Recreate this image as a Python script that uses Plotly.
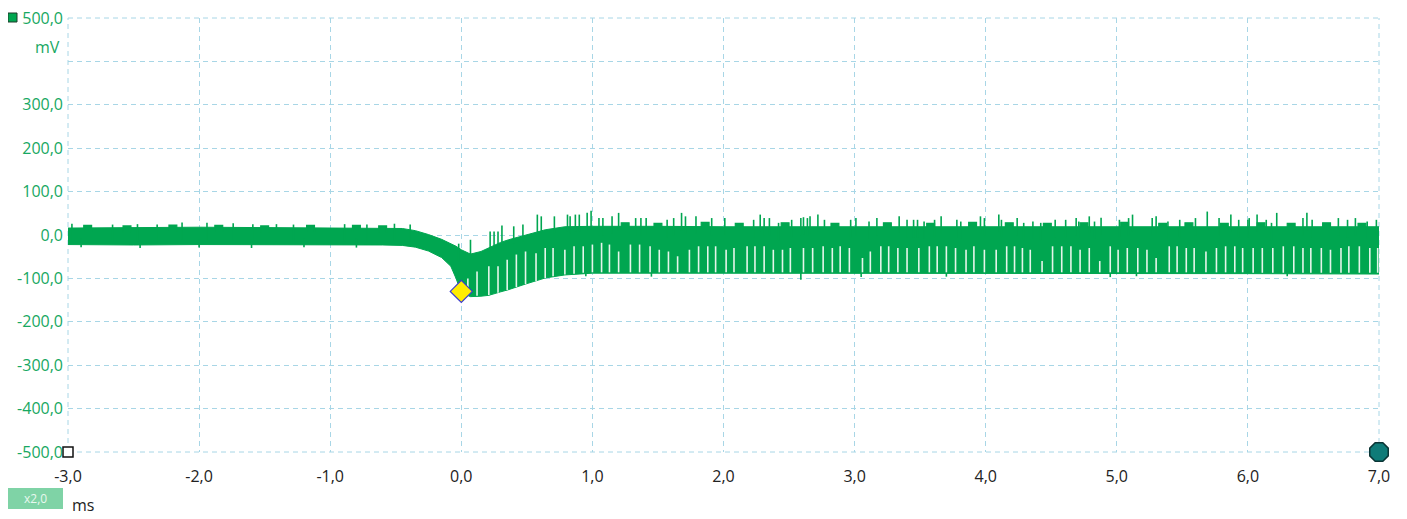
import plotly.graph_objects as go

# ---------------- data (time in ms, voltage in mV) -------------
# envelope of the dense body of the trace
env_t  = [-3.0, -2.5, -2.0, -1.5, -1.0, -0.6, -0.45, -0.35, -0.25, -0.15, -0.08, -0.04, 0.0,
          0.07, 0.15, 0.21, 0.3, 0.36, 0.49, 0.64, 0.79, 1.0, 1.5, 2.0, 3.0, 4.0, 5.0, 6.0, 7.0]
env_hi = [16, 17, 18, 17, 16, 16, 15, 10, 1, -10, -20, -26, -34,
          -44, -38, -29, -17, -11, 0, 12, 19, 20, 20, 19, 19, 19, 19, 19, 19]
env_lo = [-22, -23, -22, -22, -23, -23, -24, -28, -37, -52, -72, -100, -133,
          -142, -141, -139, -131, -126, -113, -99, -92, -88, -88, -88, -88, -88, -89, -89, -90]

# upward spikes above the body
spike_t = [-2.97, -2.66, -2.47, -2.32, -2.13, -1.94, -1.74, -1.59, -1.41, -1.28, -0.89, -0.72, -0.51, -0.39,
           -0.02, 0.07, 0.22, 0.25, 0.28, 0.31, 0.40, 0.47, 0.58, 0.61, 0.71, 0.81, 0.83, 0.87, 0.90, 0.96,
           0.99, 1.05, 1.08, 1.15, 1.20, 1.33, 1.37, 1.41, 1.57, 1.62, 1.68, 1.71, 1.79, 1.91,
           2.01, 2.23, 2.28, 2.31, 2.35, 2.42, 2.52, 2.59, 2.61, 2.64, 2.66, 2.72, 2.77, 2.97, 3.01,
           3.11, 3.17, 3.34, 3.40, 3.45, 3.48, 3.53, 3.61, 3.66, 3.78, 3.81, 3.96, 3.99,
           4.10, 4.12, 4.24, 4.29, 4.36, 4.42, 4.53, 4.61, 4.69, 4.71, 4.79, 4.83, 4.88, 5.02, 5.09,
           5.12, 5.27, 5.30, 5.39, 5.48, 5.60, 5.69, 5.78, 5.87, 5.93, 6.00,
           6.01, 6.07, 6.14, 6.18, 6.22, 6.42, 6.45, 6.49, 6.69, 6.76, 6.82, 6.91, 6.98]
spike_v = [26, 24, 25, 24, 29, 28, 27, 25, 25, 24, 25, 24, 26, 24,
           -20, -11, 8, 8, 8, 22, 20, 24, 47, 43, 43, 47, 43, 47, 47, 51,
           56, 39, 39, 43, 51, 39, 39, 39, 35, 39, 51, 43, 43, 39,
           39, 35, 47, 39, 39, 28, 35, 39, 41, 39, 43, 47, 35, 35, 39,
           31, 39, 43, 35, 35, 35, 31, 35, 43, 35, 31, 43, 39,
           47, 35, 39, 28, 31, 28, 35, 35, 39, 31, 43, 31, 40, 35, 39,
           47, 39, 43, 31, 35, 39, 54, 39, 47, 35, 35,
           39, 47, 35, 28, 51, 39, 51, 35, 39, 35, 39, 31, 35]

# small bumps on the upper edge of the body
bump_t = [-2.85, -2.55, -2.2, -1.85, -1.5, -1.15, -0.8, -0.6, 1.25, 1.50, 1.86, 2.12, 2.47, 2.85,
          3.25, 3.58, 3.90, 4.18, 4.47, 4.75, 5.06, 5.35, 5.55, 5.82, 6.10, 6.33, 6.60, 6.87]
bump_v = [22, 21, 23, 22, 21, 22, 22, 21, 28, 27, 29, 27, 28, 27,
          28, 27, 29, 28, 27, 28, 29, 27, 28, 27, 28, 27, 28, 27]

# downward spikes below the body
dip_t = [-2.90, -2.45, -2.00, -1.60, -1.20, -0.80, 0.95, 1.45, 2.59, 3.05, 3.70, 4.95, 5.15, 6.30]
dip_v = [-28, -30, -29, -30, -28, -29, -95, -96, -103, -97, -96, -97, -95, -95]

# periodic gaps (light notches) in the lower half of the body
notch_t = [0.05, 0.12, 0.21, 0.28, 0.35, 0.42, 0.49, 0.57, 0.64, 0.70, 0.79, 0.86, 0.93, 1.00,
           1.07, 1.13, 1.20, 1.29, 1.36, 1.44, 1.51, 1.58, 1.65, 1.74, 1.81, 1.88, 1.94,
           2.02, 2.08, 2.18, 2.24, 2.31, 2.38, 2.45, 2.51, 2.61, 2.68, 2.76, 2.83, 2.89, 2.96,
           3.06, 3.12, 3.20, 3.26, 3.33, 3.40, 3.49, 3.57, 3.63, 3.70, 3.77, 3.85, 3.91, 3.99,
           4.08, 4.16, 4.22, 4.28, 4.34, 4.43, 4.51, 4.58, 4.65, 4.72, 4.79, 4.87, 4.95, 5.01,
           5.08, 5.16, 5.23, 5.30, 5.40, 5.46, 5.53, 5.59, 5.68, 5.76, 5.83, 5.90, 5.96,
           6.04, 6.11, 6.19, 6.27, 6.35, 6.42, 6.48, 6.56, 6.63, 6.71, 6.77, 6.85, 6.93, 6.99]
notch_top = [-100, -84, -72, -72, -57, -45, -38, -42, -30, -30, -34, -26, -26, -22,
             -18, -22, -38, -22, -22, -26, -34, -38, -49, -34, -26, -26, -26,
             -34, -30, -26, -26, -26, -34, -34, -30, -30, -30, -26, -30, -26, -30,
             -53, -38, -26, -26, -30, -30, -30, -26, -26, -26, -30, -34, -26, -34,
             -34, -26, -26, -30, -34, -60, -26, -26, -26, -34, -30, -60, -26, -34,
             -30, -30, -34, -53, -26, -26, -30, -30, -38, -30, -26, -26, -30,
             -30, -30, -30, -26, -26, -30, -30, -30, -34, -30, -26, -26, -30, -30]
notch_low = [-138, -140, -138, -133, -127, -120, -113, -106, -99, -95, -91, -89, -87, -86,
             -86, -86, -86, -86, -86, -86, -86, -86, -86, -86, -86, -86, -86,
             -86, -86, -86, -86, -86, -86, -86, -86, -86, -86, -86, -86, -86, -86,
             -86, -86, -86, -86, -86, -86, -86, -86, -86, -86, -86, -86, -86, -86,
             -86, -86, -86, -86, -86, -86, -86, -86, -86, -86, -86, -86, -86, -86,
             -86, -86, -86, -86, -86, -86, -86, -86, -86, -86, -86, -86, -86,
             -87, -87, -87, -87, -87, -87, -87, -87, -87, -87, -87, -87, -87, -87]

# trigger marker
trig_t = [0.0]
trig_v = [-130]

# axes
x_ticks = [-3, -2, -1, 0, 1, 2, 3, 4, 5, 6, 7]
x_labels = ["-3,0", "-2,0", "-1,0", "0,0", "1,0", "2,0", "3,0", "4,0", "5,0", "6,0", "7,0"]
y_ticks = [-500, -400, -300, -200, -100, 0, 100, 200, 300, 400, 500]
y_labels = ["-500,0", "-400,0", "-300,0", "-200,0", "-100,0", "0,0", "100,0", "200,0", "300,0", "", "500,0"]

# ---------------- styling -------------
GREEN = "#00a650"
GRID = "#a8d6e6"
DASH = "5px,4px"
FONT = "Open Sans"
FS = 16

fig = go.Figure()

# body of the trace
fig.add_trace(go.Scatter(x=env_t, y=env_lo, mode="lines", line=dict(color=GREEN, width=1),
                         hoverinfo="skip"))
fig.add_trace(go.Scatter(x=env_t, y=env_hi, mode="lines", line=dict(color=GREEN, width=1),
                         fill="tonexty", fillcolor=GREEN, hoverinfo="skip"))

# spikes
sx, sy = [], []
for t, v in zip(spike_t, spike_v):
    sx += [t, t, None]
    sy += [v - 40, v, None]
fig.add_trace(go.Scatter(x=sx, y=sy, mode="lines", line=dict(color=GREEN, width=1.6),
                         hoverinfo="skip"))

bx, by = [], []
for t, v in zip(bump_t, bump_v):
    bx += [t - 0.03, t - 0.03, t + 0.03, t + 0.03, None]
    by += [v - 15, v, v, v - 15, None]
fig.add_trace(go.Scatter(x=bx, y=by, mode="lines", line=dict(color=GREEN, width=1.2),
                         fill="toself", fillcolor=GREEN, hoverinfo="skip"))

dx, dy = [], []
for t, v in zip(dip_t, dip_v):
    dx += [t, t, None]
    dy += [v + 20, v, None]
fig.add_trace(go.Scatter(x=dx, y=dy, mode="lines", line=dict(color=GREEN, width=1.6),
                         hoverinfo="skip"))

# notches
nx, ny = [], []
for t, a, b in zip(notch_t, notch_top, notch_low):
    nx += [t, t, None]
    ny += [a, b, None]
fig.add_trace(go.Scatter(x=nx, y=ny, mode="lines", line=dict(color="#e4f5ea", width=1.6),
                         hoverinfo="skip"))

# trigger diamond
fig.add_trace(go.Scatter(x=trig_t, y=trig_v, mode="markers", cliponaxis=False,
                         marker=dict(symbol="diamond", size=17, color="#ffec00",
                                     line=dict(color="#3a3ad0", width=1.2))))
# ruler markers at the corners
fig.add_trace(go.Scatter(x=[x_ticks[0]], y=[y_ticks[0]], mode="markers", cliponaxis=False,
                         marker=dict(symbol="square", size=10, color="white",
                                     line=dict(color="#111111", width=1.5))))
fig.add_trace(go.Scatter(x=[x_ticks[-1]], y=[y_ticks[0]], mode="markers", cliponaxis=False,
                         marker=dict(symbol="octagon", size=20, color="#0f7b78",
                                     line=dict(color="#0b3535", width=1.5))))

# the page body has an 8px default margin, so the figure is placed 8px in from the window edge
OFF = 8
W, H = 1407 - OFF, 519 - OFF
L, T = 68 - OFF, 18 - OFF
pw, ph = 1311, 434
R, B = W - L - pw, H - T - ph


def px(xa):  # absolute window x -> paper x
    return (xa - OFF - L) / pw


def py(ya):  # absolute window y -> paper y
    return (T + ph - (ya - OFF)) / ph


fig.update_layout(
    width=W, height=H,
    margin=dict(l=L, r=R, t=T, b=B, autoexpand=False),
    paper_bgcolor="white", plot_bgcolor="white",
    showlegend=False,
    font=dict(family=FONT, size=FS),
    xaxis=dict(range=[x_ticks[0], x_ticks[-1]], tickvals=x_ticks, ticktext=x_labels,
               showgrid=True, gridcolor=GRID, gridwidth=1, griddash=DASH, automargin=False,
               zeroline=False, showline=False, ticks="", ticklabelstandoff=13,
               ticklabeloverflow="allow",
               tickfont=dict(family=FONT, size=FS, color="#222222"), fixedrange=True),
    yaxis=dict(range=[y_ticks[0], y_ticks[-1]], tickvals=y_ticks, ticktext=y_labels,
               showgrid=True, gridcolor=GRID, gridwidth=1, griddash=DASH, automargin=False,
               zeroline=False, showline=False, ticks="", ticklabelstandoff=4,
               ticklabeloverflow="allow",
               tickfont=dict(family=FONT, size=FS, color="#17a862"), fixedrange=True),
    shapes=[
        # grid lines on the plot edges
        dict(type="line", xref="paper", yref="paper", x0=0, x1=1, y0=1, y1=1,
             line=dict(color=GRID, width=1, dash=DASH), layer="below"),
        dict(type="line", xref="paper", yref="paper", x0=0, x1=0, y0=0, y1=1,
             line=dict(color=GRID, width=1, dash=DASH), layer="below"),
        dict(type="line", xref="paper", yref="paper", x0=1, x1=1, y0=0, y1=1,
             line=dict(color=GRID, width=1, dash=DASH), layer="below"),
        dict(type="line", xref="paper", yref="paper", x0=0, x1=1, y0=0, y1=0,
             line=dict(color=GRID, width=1, dash=DASH), layer="below"),
        dict(type="rect", xref="paper", yref="paper", x0=px(8), x1=px(17), y0=py(22), y1=py(13),
             fillcolor=GREEN, line=dict(color="#1e3b2b", width=1), layer="above"),
        dict(type="rect", xref="paper", yref="paper", x0=px(8), x1=px(63), y0=py(509), y1=py(488),
             fillcolor="#7fd3a6", line=dict(width=0), layer="above"),
    ],
    annotations=[
        dict(text="mV", xref="paper", yref="paper", x=px(62), y=py(47), xanchor="right",
             yanchor="middle", showarrow=False, font=dict(family=FONT, size=FS, color="#17a862")),
        dict(text="x2,0", xref="paper", yref="paper", x=px(35.5), y=py(498.5), xanchor="center",
             yanchor="middle", showarrow=False, font=dict(family=FONT, size=12, color="#e8f8ef")),
        dict(text="ms", xref="paper", yref="paper", x=px(70), y=py(505), xanchor="left",
             yanchor="middle", showarrow=False, font=dict(family=FONT, size=FS, color="#222222")),
    ],
)

fig.write_html("out.html")
